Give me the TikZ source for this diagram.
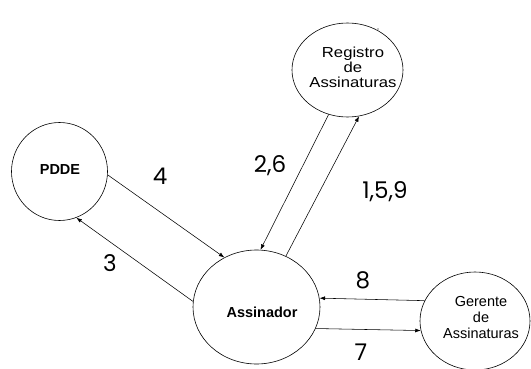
\documentclass[tikz,border=0pt]{standalone}
\usepackage{fontspec}
\setmainfont{Liberation Sans}
\newfontfamily\wideFont{Liberation Sans}[FakeStretch=1.15]
\newfontfamily\numFont{Poppins}
\usetikzlibrary{shapes.geometric,arrows.meta}
\begin{document}
\begin{tikzpicture}[x=1pt,y=-1pt,
  proc/.style={draw, ellipse, inner sep=0pt, line width=0.6pt},
  flow/.style={-{Latex[length=5.5pt,width=4pt]}, line width=0.55pt},
  lbl/.style={font=\numFont\fontsize{23}{23}\selectfont, inner sep=0pt},
  txt/.style={align=center, inner sep=0pt, font=\fontsize{14.5}{16}\selectfont},
  widetxt/.style={align=center, inner sep=0pt, font=\wideFont\fontsize{14.5}{15}\selectfont},
  btxt/.style={inner sep=0pt, font=\bfseries\fontsize{14.5}{15}\selectfont}]
\useasboundingbox (0,0) rectangle (531,369);
% processes
\node[proc, minimum width=96pt, minimum height=98pt] (pdde) at (59.5,171.5) {};
\node[btxt] (pddeT) at (60,170) {PDDE};
\node[proc, minimum width=127pt, minimum height=114pt] (ass) at (256.5,307) {};
\node[btxt] (assT) at (262,312) {Assinador};
\node[proc, minimum width=111pt, minimum height=94pt] (reg) at (347.5,70) {};
\node[widetxt] (regT) at (353,67.5) {Registro\\de\\Assinaturas};
\node[proc, minimum width=110pt, minimum height=98pt] (ger) at (475,321) {};
\node[txt] (gerT) at (481,317.5) {Gerente\\de\\Assinaturas};
\node[circle, fill, inner sep=0pt, minimum size=1.4pt] (dot) at (378,29) {};
% flows
\draw[flow] (pdde.-4) -- (ass.123.6);
\draw[flow] (ass.175) -- (pdde.-70);
\draw[flow] (reg.-113.4) -- (ass.86.4);
\draw[flow] (ass.60.4) -- (reg.-76.3);
\draw[flow] (ger.158) -- (ass.8.5);
\draw[flow] (ass.-20.3) -- (ger.190.7);
% labels
\node[lbl] (l4) at (160,176) {4};
\node[lbl] (l3) at (110,263) {3};
\node[lbl] (l26) at (270,166) {2,6};
\node[lbl] (l159) at (385,192) {1,5,9};
\node[lbl] (l8) at (363,280) {8};
\node[lbl] (l7) at (361,352) {7};
\end{tikzpicture}
\end{document}
